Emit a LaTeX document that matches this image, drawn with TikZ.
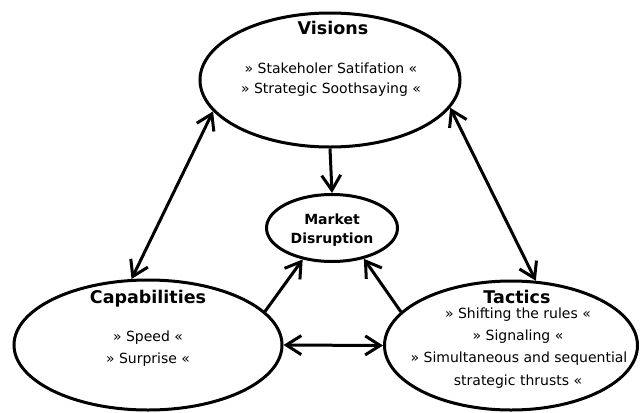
\documentclass[tikz,border=0pt]{standalone}
\usepackage{fontspec}
\setmainfont{DejaVu Sans}
\usetikzlibrary{shapes.geometric,arrows.meta}
\begin{document}
\begin{tikzpicture}[x=1pt,y=-1pt,
  oval/.style={draw,ellipse,line width=3pt,inner sep=0pt},
  head/.style={font=\bfseries\fontsize{17.5}{20}\selectfont,inner sep=0pt},
  sub/.style={font=\bfseries\fontsize{14}{16}\selectfont,inner sep=0pt},
  item/.style={font=\fontsize{14}{16}\selectfont,inner sep=0pt},
  link/.style={line width=3pt,{Straight Barb[length=15pt,width=19pt]}-{Straight Barb[length=15pt,width=19pt]}},
  feed/.style={line width=3pt,-{Straight Barb[length=15pt,width=19pt]}}]
\useasboundingbox (0,0) rectangle (641,413);
% ellipses
\node[oval,minimum width=260pt,minimum height=134pt] (vis) at (330,80) {};
\node[oval,minimum width=131pt,minimum height=67pt] (mkt) at (332,228) {};
\node[oval,minimum width=268pt,minimum height=130pt] (cap) at (148,345) {};
\node[oval,minimum width=253pt,minimum height=129pt] (tac) at (511,345.5) {};
% texts
\node[head] (visT) at (333,28) {Visions};
\node[item] (vis1) at (331,68) {» Stakeholer Satifation «};
\node[item] (vis2) at (331,90) {» Strategic Soothsaying «};
\node[sub] (mkt1) at (332,219) {Market};
\node[sub] (mkt2) at (332,240) {Disruption};
\node[head] (capT) at (148,299) {Capabilities};
\node[item] (cap1) at (148,338) {» Speed «};
\node[item] (cap2) at (148,360) {» Surprise «};
\node[head] (tacT) at (517,297) {Tactics};
\node[item] (tac1) at (518,315) {» Shifting the rules «};
\node[item] (tac2) at (518,337) {» Signaling «};
\node[item] (tac3) at (519,359) {» Simultaneous and sequential};
\node[item] (tac4) at (518,382) {strategic thrusts «};
% connectors
\draw[feed] (vis.south) -- (mkt.north);
\draw[link] (vis.-165) -- (cap.104);
\draw[link] (vis.-13) -- (tac.69);
\draw[feed] (cap.16) -- (mkt.-133);
\draw[feed] (tac.163) -- (mkt.-44);
\draw[link] (cap.east) -- (tac.west);
\end{tikzpicture}
\end{document}
